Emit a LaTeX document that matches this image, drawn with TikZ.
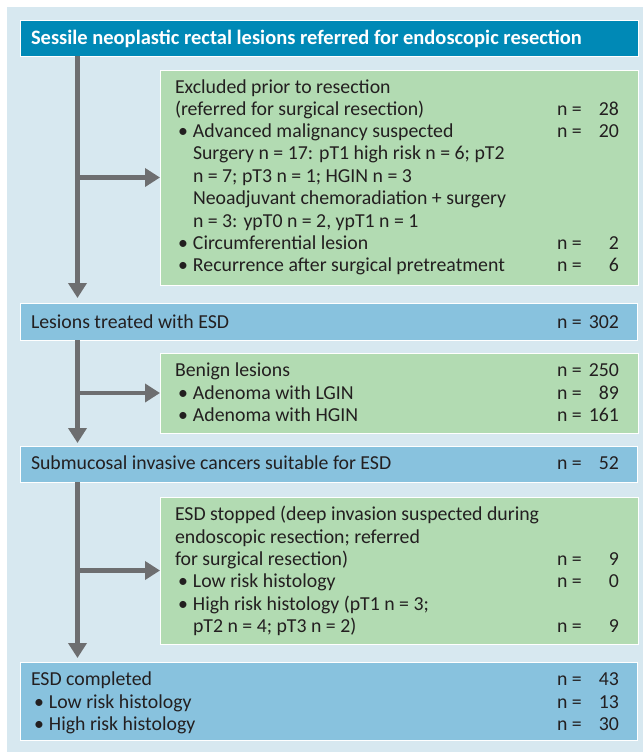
\documentclass[tikz,border=0pt]{standalone}
\usepackage{fontspec}
\setmainfont{Carlito}
\usetikzlibrary{arrows.meta}
\definecolor{bgc}{RGB}{215,232,240}
\definecolor{hdrc}{RGB}{0,137,182}
\definecolor{bluec}{RGB}{136,194,222}
\definecolor{greenc}{RGB}{178,219,178}
\definecolor{arrc}{RGB}{109,110,112}
\definecolor{txtc}{RGB}{35,31,32}
\newcommand\bul{\makebox[18pt][l]{\hspace{3pt}\textbullet}}
\newcommand\tl[4]{\node[txt,anchor=base west] (#1) at (#2,#3) {#4};}
\newcommand\nv[3]{\node[txt,anchor=base west] (#1n) at (557,#2) {n =};\node[txt,anchor=base east] (#1v) at (619,#2) {#3};}
\begin{document}
\begin{tikzpicture}[x=1pt,y=-1pt,
  box/.style={draw=white,line width=0.8pt,anchor=north west,inner sep=0pt,outer sep=0pt},
  txt/.style={inner sep=0pt,outer sep=0pt,text=txtc,font=\fontsize{19.8}{22}\selectfont},
  arr/.style={draw=arrc,line width=4.5pt,-{Triangle[length=15pt,width=18pt]}}]
\useasboundingbox (0,0) rectangle (643,753);
\fill[bgc] (7,7) rectangle (643,752);
% boxes
\node[box,fill=hdrc,minimum width=618pt,minimum height=36pt] (hdr) at (20.7,20) {};
\node[box,fill=greenc,minimum width=478pt,minimum height=215pt] (g1) at (160,70) {};
\node[box,fill=bluec,minimum width=617pt,minimum height=37pt] (b2) at (20.7,303) {};
\node[box,fill=greenc,minimum width=478pt,minimum height=80pt] (g2) at (160,353) {};
\node[box,fill=bluec,minimum width=617pt,minimum height=36pt] (b3) at (20.7,446) {};
\node[box,fill=greenc,minimum width=478pt,minimum height=147pt] (g3) at (160,497) {};
\node[box,fill=bluec,minimum width=617pt,minimum height=78pt] (b4) at (20.7,662) {};
% spine
\coordinate (sp) at (77.5,0);
\draw[arr] (hdr.south -| sp) -- ([yshift=5pt]b2.north -| sp);
\draw[arr] (g1.west -| sp) -- (g1.west);
\draw[arr] (b2.south -| sp) -- ([yshift=3pt]b3.north -| sp);
\draw[arr] (g2.west -| sp) -- (g2.west);
\draw[arr] (b3.south -| sp) -- ([yshift=4pt]b4.north -| sp);
\draw[arr] (g3.west -| sp) -- (g3.west);
% header text
\node[txt,anchor=base west,text=white,font=\fontsize{20.5}{22}\selectfont\bfseries] (ht) at (31,44) {Sessile neoplastic rectal lesions referred for endoscopic resection};
% green 1
\tl{a1}{175}{93}{Excluded prior to resection}
\tl{a2}{175}{115}{(referred for surgical resection)}\nv{a2}{115}{28}
\tl{a3}{175}{137}{\bul Advanced malignancy suspected}\nv{a3}{137}{20}
\tl{a4}{193}{159}{Surgery n = 17: pT1 high risk n = 6; pT2}
\tl{a5}{193}{182}{n = 7; pT3 n = 1; HGIN n = 3}
\tl{a6}{193}{204}{Neoadjuvant chemoradiation + surgery}
\tl{a7}{193}{227}{n = 3: ypT0 n = 2, ypT1 n = 1}
\tl{a8}{175}{249}{\bul Circumferential lesion}\nv{a8}{249}{2}
\tl{a9}{175}{271}{\bul Recurrence after surgical pretreatment}\nv{a9}{271}{6}
% blue 2
\tl{c1}{31}{328}{Lesions treated with ESD}\nv{c1}{328}{302}
% green 2
\tl{d1}{175}{376}{Benign lesions}\nv{d1}{376}{250}
\tl{d2}{175}{399}{\bul Adenoma with LGIN}\nv{d2}{399}{89}
\tl{d3}{175}{421}{\bul Adenoma with HGIN}\nv{d3}{421}{161}
% blue 3
\tl{e1}{31}{469}{Submucosal invasive cancers suitable for ESD}\nv{e1}{469}{52}
% green 3
\tl{f1}{175}{520}{ESD stopped (deep invasion suspected during}
\tl{f2}{175}{543}{endoscopic resection; referred}
\tl{f3}{175}{565}{for surgical resection)}\nv{f3}{565}{9}
\tl{f4}{175}{587}{\bul Low risk histology}\nv{f4}{587}{0}
\tl{f5}{175}{610}{\bul High risk histology (pT1 n = 3;}
\tl{f6}{193}{632}{pT2 n = 4; pT3 n = 2)}\nv{f6}{632}{9}
% blue 4
\tl{h1}{31}{685}{ESD completed}\nv{h1}{685}{43}
\tl{h2}{31}{708}{\bul Low risk histology}\nv{h2}{708}{13}
\tl{h3}{31}{730}{\bul High risk histology}\nv{h3}{730}{30}
\end{tikzpicture}
\end{document}
